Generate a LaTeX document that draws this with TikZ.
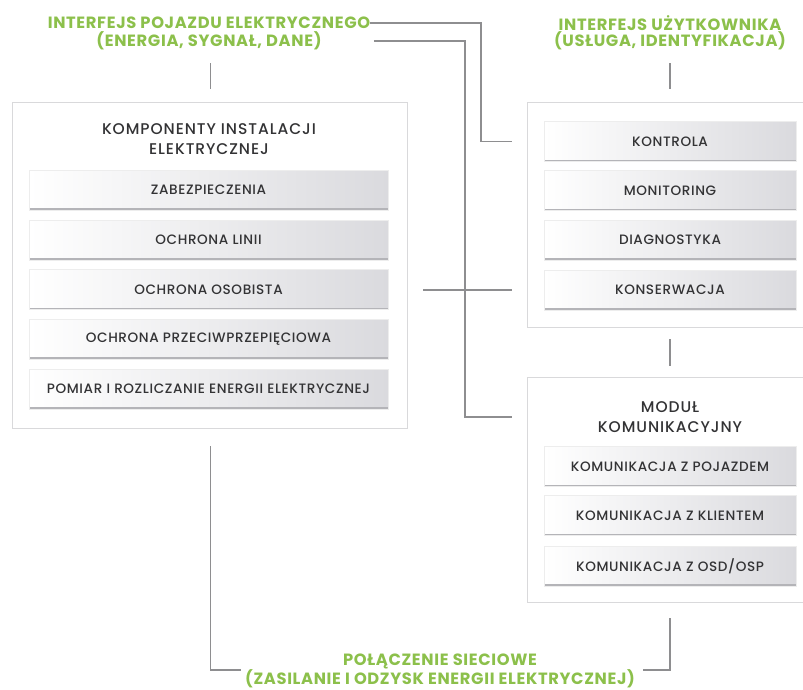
\documentclass[tikz,border=0pt]{standalone}
\usepackage{fontspec}
\setmainfont{Poppins}
\newfontfamily\headfont{Poppins Bold}[LetterSpace=4]
\newfontfamily\titlefont{Poppins Medium}[LetterSpace=6]
\newfontfamily\tilefont{Poppins Medium}[LetterSpace=4.5]
\usetikzlibrary{calc}
\definecolor{leaf}{HTML}{8CC04B}
\definecolor{ink}{HTML}{333335}
\definecolor{wire}{HTML}{8E8E90}
\definecolor{frame}{HTML}{D9D9DB}
\definecolor{tilegray}{HTML}{DADADE}
\definecolor{tileedge}{HTML}{B4B4B8}
\begin{document}
\begin{tikzpicture}[x=1pt,y=-1pt,
  heading/.style={text=leaf,font=\headfont\fontsize{16.3}{18}\selectfont,inner sep=0pt,align=center},
  panel/.style={draw=frame,line width=1.3pt,fill=white,inner sep=0pt,anchor=north west},
  paneltitle/.style={text=ink,font=\titlefont\fontsize{15.5}{19.5}\selectfont,align=center,inner sep=0pt},
  tile/.style={minimum height=40pt,inner sep=0pt,text=ink,
    font=\tilefont\fontsize{13.6}{15}\selectfont,
    left color=white,right color=tilegray,draw=black!7,line width=0.6pt,
    path picture={\draw[tileedge,line width=4pt]
      (path picture bounding box.south west) -- (path picture bounding box.south east);}},
  lefttile/.style={tile,minimum width=359pt},
  righttile/.style={tile,minimum width=252pt},
  link/.style={draw=wire,line width=1.2pt}]
\clip (0,0) rectangle (803,690);
\fill[white] (0,0) rectangle (803,690);

% headings
\node[heading] (pev1) at (209,23) {INTERFEJS POJAZDU ELEKTRYCZNEGO};
\node[heading] (pev2) at (209,41) {(ENERGIA, SYGNAŁ, DANE)};
\node[heading] (usr1) at (670,23) {INTERFEJS UŻYTKOWNIKA};
\node[heading] (usr2) at (670,41) {(USŁUGA, IDENTYFIKACJA)};
\node[heading] (grid1) at (440,661.5) {POŁĄCZENIE SIECIOWE};
\node[heading] (grid2) at (440,678.5) {(ZASILANIE I ODZYSK ENERGII ELEKTRYCZNEJ)};

% panels
\node[panel,minimum width=395pt,minimum height=326pt] (inst) at (12,102) {};
\node[panel,minimum width=300pt,minimum height=225pt] (ui) at (527,102) {};
\node[panel,minimum width=300pt,minimum height=225pt] (comm) at (527,377) {};

\node[paneltitle] (insttitle) at (209,139) {KOMPONENTY INSTALACJI\\ELEKTRYCZNEJ};
\node[paneltitle] (commtitle) at (670,417) {MODUŁ\\KOMUNIKACYJNY};

% installation components
\node[lefttile] (zab) at (208.5,190) {ZABEZPIECZENIA};
\node[lefttile] (linia) at (208.5,240) {OCHRONA LINII};
\node[lefttile] (osob) at (208.5,289.5) {OCHRONA OSOBISTA};
\node[lefttile] (przep) at (208.5,339) {OCHRONA PRZECIWPRZEPIĘCIOWA};
\node[lefttile] (pomiar) at (208.5,389) {POMIAR I ROZLICZANIE ENERGII ELEKTRYCZNEJ};

% user interface functions
\node[righttile] (kontrola) at (670,141.5) {KONTROLA};
\node[righttile] (monit) at (670,190.5) {MONITORING};
\node[righttile] (diag) at (670,240) {DIAGNOSTYKA};
\node[righttile] (kons) at (670,290) {KONSERWACJA};

% communication module functions
\node[righttile] (kpoj) at (670,466.5) {KOMUNIKACJA Z POJAZDEM};
\node[righttile] (kkli) at (670,515.5) {KOMUNIKACJA Z KLIENTEM};
\node[righttile] (kosd) at (670,566) {KOMUNIKACJA Z OSD/OSP};

% routing coordinates
\coordinate (busA) at (481,0);
\coordinate (busB) at (465,0);
\coordinate (stub) at (512,0);
\coordinate (crossL) at (423,0);
\coordinate (baseline) at (0,670);
\coordinate (p2start) at ([xshift=52pt]pev2.east);

% vehicle interface links
\draw[link] (pev1.east) -- (pev1.east -| busA) |- (kontrola.west -| stub);
\draw[link] (p2start) -- (p2start -| busB) |- (commtitle.west -| stub);
\draw[link] (kons.west -| crossL) -- (kons.west -| stub);

% short ticks between headings and panels
\draw[link] ([yshift=13pt]inst.north) -- ([yshift=39pt]inst.north);
\draw[link] ([yshift=13pt]ui.north -| kontrola) -- ([yshift=39pt]ui.north -| kontrola);
\draw[link] ([yshift=-11pt]ui.south -| kons) -- ([yshift=-38pt]ui.south -| kons);

% grid connection links
\draw[link] ([yshift=-17pt]inst.south) |- ([xshift=-4pt]grid2.west |- baseline);
\draw[link] ([yshift=-15pt]comm.south -| kosd) |- ([xshift=8pt]grid2.east |- baseline);
\end{tikzpicture}
\end{document}
